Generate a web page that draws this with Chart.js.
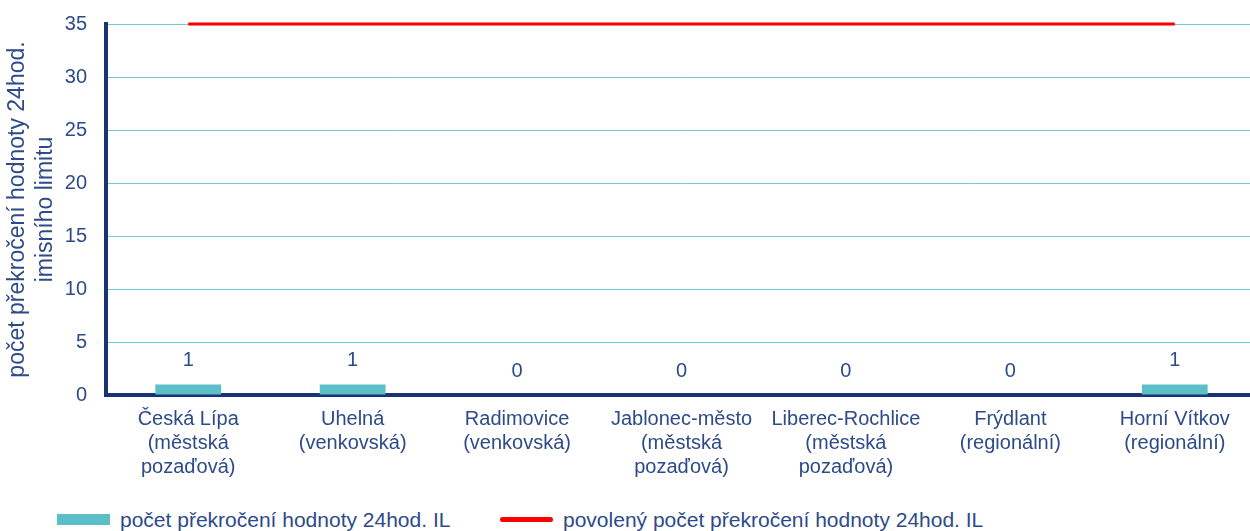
<!DOCTYPE html>
<html>
<head>
<meta charset="utf-8">
<script src="https://cdn.jsdelivr.net/npm/chart.js@4.4.0/dist/chart.umd.min.js"></script>
<style>
  html, body { margin: 0; padding: 0; background: #fff; overflow: hidden; }
  #wrap { position: relative; width: 1250px; height: 531px; overflow: hidden; font-family: "Liberation Sans", Arial, sans-serif; }
  #box { position: absolute; left: 0; top: -7px; width: 1257px; height: 497px; }
  .legend { position: absolute; top: 508px; font-size: 21px; color: #2d4a8a; white-space: nowrap; }
  .swatch { display: inline-block; vertical-align: middle; margin-right: 10px; position: relative; top: -2px; }
</style>
</head>
<body>
<div id="wrap">
  <div id="box"><canvas id="chart"></canvas></div>
  <div class="legend" style="left:57px"><span class="swatch" style="width:53px;height:11px;background:#5bbfca"></span>počet překročení hodnoty 24hod. IL</div>
  <div class="legend" style="left:500px"><span class="swatch" style="width:53px;height:5px;background:#ff0000;border-radius:3px"></span>povolený počet překročení hodnoty 24hod. IL</div>
</div>
<script>
// ---------- Data ----------
const stations = [
  ["Česká Lípa", "(městská", "pozaďová)"],
  ["Uhelná", "(venkovská)"],
  ["Radimovice", "(venkovská)"],
  ["Jablonec-město", "(městská", "pozaďová)"],
  ["Liberec-Rochlice", "(městská", "pozaďová)"],
  ["Frýdlant", "(regionální)"],
  ["Horní Vítkov", "(regionální)"]
];
const exceedances = [1, 1, 0, 0, 0, 0, 1];
const allowedExceedances = [35, 35, 35, 35, 35, 35, 35];
const yTicks = [0, 5, 10, 15, 20, 25, 30, 35];

const textColor = "#2d4a8a";
const axisColor = "#1b3274";
const family = "'Liberation Sans', Arial, sans-serif";

// value labels above the bars
const valueLabels = {
  id: "valueLabels",
  afterDatasetsDraw(chart) {
    const ctx = chart.ctx;
    const meta = chart.getDatasetMeta(1);
    ctx.save();
    ctx.font = `20px ${family}`;
    ctx.fillStyle = textColor;
    ctx.textAlign = "center";
    ctx.textBaseline = "middle";
    meta.data.forEach((bar, i) => {
      ctx.fillText(String(exceedances[i]), bar.x, bar.y - 24);
    });
    ctx.restore();
  }
};

new Chart(document.getElementById("chart"), {
  data: {
    labels: stations,
    datasets: [
      {
        type: "line",
        label: "povolený počet překročení hodnoty 24hod. IL",
        data: allowedExceedances,
        borderColor: "#ff0000",
        borderWidth: 3,
        pointRadius: 0,
        fill: false,
        clip: 8,
        order: 0
      },
      {
        type: "bar",
        label: "počet překročení hodnoty 24hod. IL",
        data: exceedances,
        backgroundColor: "#5bbfca",
        barPercentage: 0.4,
        categoryPercentage: 1.0,
        order: 1
      }
    ]
  },
  options: {
    responsive: true,
    maintainAspectRatio: false,
    animation: false,
    layout: { padding: { top: 7, right: 0, left: 4, bottom: 0 } },
    plugins: {
      legend: { display: false },
      tooltip: { enabled: false }
    },
    scales: {
      x: {
        grid: { display: false, drawTicks: false },
        border: { color: axisColor, width: 4 },
        ticks: { color: textColor, font: { family, size: 20, lineHeight: 1.2 }, maxRotation: 0, autoSkip: false, padding: 12 },
        afterFit(scale) { scale.height = 95; }
      },
      y: {
        min: 0,
        max: 35,
        afterBuildTicks(scale) { scale.ticks = yTicks.map(v => ({ value: v })); },
        grid: { color: "#6fcad7", lineWidth: 1, drawTicks: false },
        border: { color: axisColor, width: 4 },
        ticks: { color: textColor, font: { family, size: 20 }, padding: 19 },
        title: {
          display: true,
          text: ["počet překročení hodnoty 24hod.", "imisního limitu"],
          color: textColor,
          font: { family, size: 23, lineHeight: 1.2 },
          padding: 0
        },
        afterFit(scale) { scale.width = 102; }
      }
    }
  },
  plugins: [valueLabels]
});
</script>
</body>
</html>
